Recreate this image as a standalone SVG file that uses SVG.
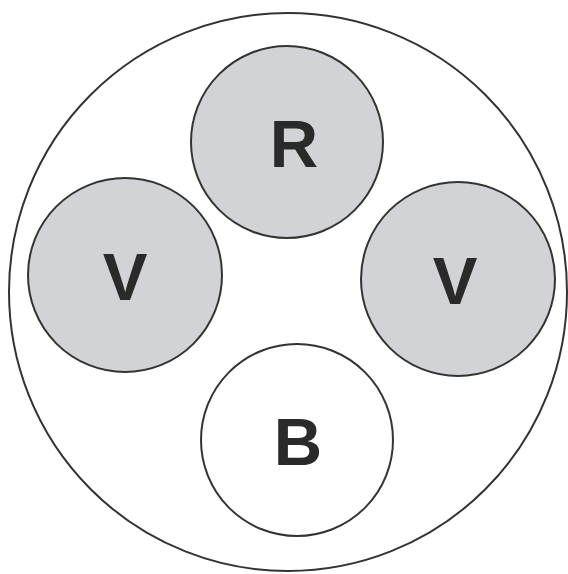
<svg xmlns="http://www.w3.org/2000/svg" width="568" height="574" viewBox="0 0 568 574">
<style>
.c{stroke:#333;stroke-width:2}
.g{fill:#d1d3d6}
.w{fill:#fff}
.t{font-family:"Liberation Sans",Arial,sans-serif;font-weight:bold;font-size:67px;fill:#2a2a2a;text-anchor:middle}
</style>
<rect width="568" height="574" fill="#fff"/>
<g id="outer"><circle class="c" cx="288" cy="292" r="279" fill="#fff"/></g>
<g id="nodeR"><circle class="c g" cx="287" cy="142" r="96"/><text class="t" x="294" y="167">R</text></g>
<g id="nodeV1"><circle class="c g" cx="125" cy="275" r="97"/><text class="t" x="125" y="300">V</text></g>
<g id="nodeV2"><circle class="c g" cx="458" cy="279" r="97"/><text class="t" x="455" y="304">V</text></g>
<g id="nodeB"><circle class="c w" cx="297" cy="440" r="96"/><text class="t" x="298" y="465">B</text></g>
<g id="connectors"/>
</svg>
